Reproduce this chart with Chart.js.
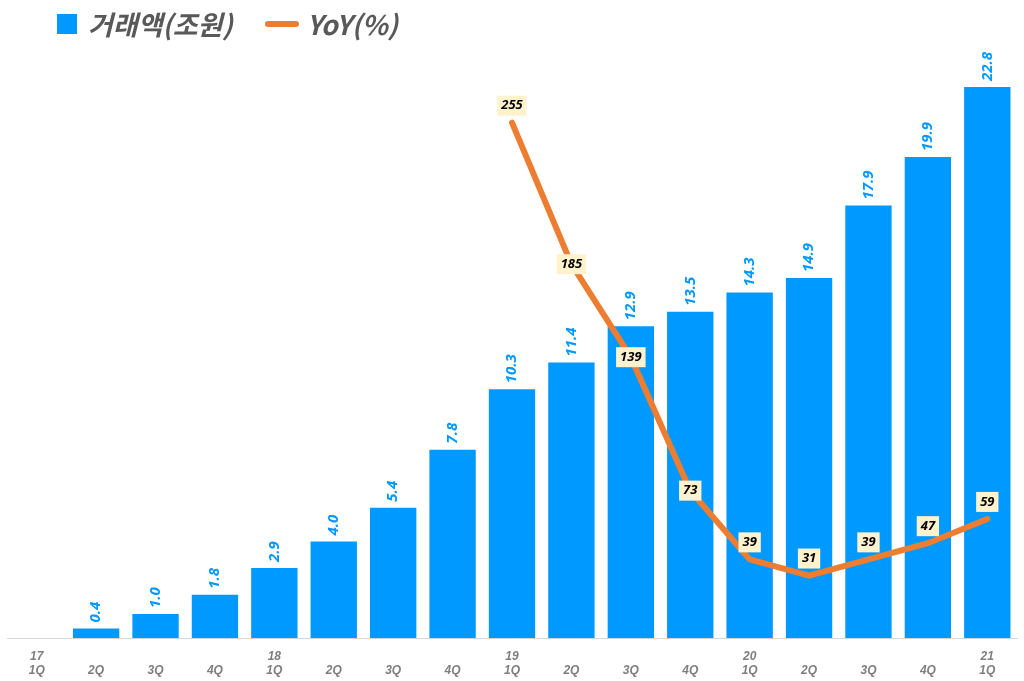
<!DOCTYPE html>
<html><head><meta charset="utf-8">
<script src="https://cdn.jsdelivr.net/npm/chart.js@4"></script>
<style>
body{margin:0;background:#fff;font-family:"Noto Sans CJK KR","Noto Sans",sans-serif;}
#wrap{position:relative;width:1024px;height:681px;}
#legend{position:absolute;top:4px;left:57px;font-size:27px;font-style:italic;font-weight:bold;color:#595959;display:flex;align-items:center;}
.sq{width:20px;height:20px;background:#0099ff;display:inline-block;margin-right:11px;}
.ln{width:34px;height:6px;background:#ed7d31;border-radius:3px;display:inline-block;margin:0 8px 0 32px;}
</style></head><body>
<div id="wrap"><canvas id="c" width="1024" height="681"></canvas>
<div id="legend"><span class="sq"></span>거래액(조원)<span class="ln"></span>YoY(%)</div></div>
<script>
const categories=[['17','1Q'],['','2Q'],['','3Q'],['','4Q'],['18','1Q'],['','2Q'],['','3Q'],['','4Q'],['19','1Q'],['','2Q'],['','3Q'],['','4Q'],['20','1Q'],['','2Q'],['','3Q'],['','4Q'],['21','1Q']];
const volume=[null,0.4,1.0,1.8,2.9,4.0,5.4,7.8,10.3,11.4,12.9,13.5,14.3,14.9,17.9,19.9,22.8];
const yoy=[null,null,null,null,null,null,null,null,255,185,139,73,39,31,39,47,59];
const labelsPlugin={id:'lbl',afterDatasetsDraw(ch){
 const ctx=ch.ctx;
 ch.getDatasetMeta(0).data.forEach((b,i)=>{ if(volume[i]==null)return;
  ctx.save();ctx.translate(b.x,b.y-6);ctx.rotate(-Math.PI/2);
  ctx.font='italic bold 15px "Open Sans",sans-serif';ctx.fillStyle='#0099ff';ctx.textAlign='left';ctx.textBaseline='middle';
  ctx.fillText(volume[i].toFixed(1),0,0);ctx.restore();});
 ch.getDatasetMeta(1).data.forEach((p,i)=>{ if(yoy[i]==null)return;
  const t=String(yoy[i]);ctx.save();ctx.font='italic bold 13px "Open Sans",sans-serif';
  const w=ctx.measureText(t).width+8,h=20,y=p.y-(i==8?17:(i>=12?17:0));
  ctx.fillStyle='#fff2cc';ctx.fillRect(p.x-w/2,y-h/2,w,h);
  ctx.fillStyle='#000';ctx.textAlign='center';ctx.textBaseline='middle';ctx.fillText(t,p.x,y);ctx.restore();});
}};
new Chart(document.getElementById('c'),{
 data:{labels:categories,datasets:[
  {type:'bar',data:volume,backgroundColor:'#0099ff',barPercentage:0.78,categoryPercentage:1,yAxisID:'y',order:2},
  {type:'line',data:yoy,borderColor:'#ed7d31',borderWidth:6,pointRadius:0,yAxisID:'y1',order:1,borderCapStyle:'round'}]},
 options:{responsive:false,animation:false,
  layout:{padding:{top:58,left:7,right:7,bottom:0}},
  plugins:{legend:{display:false},tooltip:{enabled:false}},
  scales:{
   x:{grid:{display:false},border:{color:'#d9d9d9'},ticks:{color:'#7f7f7f',font:{size:12,style:'italic',weight:'bold'},maxRotation:0,autoSkip:false}},
   y:{display:false,min:0,max:24},
   y1:{display:false,min:0,max:287}}},
 plugins:[labelsPlugin]});
</script></body></html>
